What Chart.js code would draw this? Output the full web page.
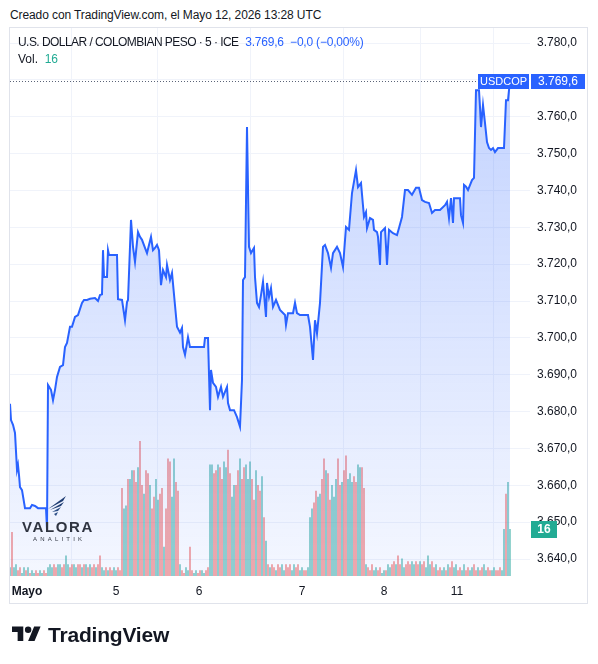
<!DOCTYPE html>
<html><head><meta charset="utf-8">
<script src="https://cdn.jsdelivr.net/npm/chart.js@4"></script>
<style>
body{margin:0;width:598px;height:664px;background:#fff;position:relative;overflow:hidden;font-family:"Liberation Sans",Arial,sans-serif;color:#131722}
#title{position:absolute;left:10px;top:8px;font-size:12px;white-space:nowrap;letter-spacing:-0.1px}
#frame{position:absolute;left:9px;top:27px;width:579px;height:577px;border:1px solid #e0e3eb;box-sizing:border-box}
#wrap{position:absolute;left:10px;top:28px;width:577px;height:575px}
#legend{position:absolute;left:18px;top:34px;font-size:12px;line-height:17px;white-space:nowrap}
#legend .n{letter-spacing:-0.55px}
#legend .b{color:#2962ff;letter-spacing:-0.2px}
#legend .g{color:#22ab94}
#valora{position:absolute;left:20px;top:494px;width:76px;height:50px}
#valora .t{position:absolute;left:2px;top:24px;font-size:15px;letter-spacing:1.6px;color:#2f3440;font-weight:bold}
#valora .s{position:absolute;left:13px;top:42px;font-size:6px;letter-spacing:3.2px;color:#2f3440}
#tv{position:absolute;left:12px;top:622px;height:26px;white-space:nowrap}
#tv span{position:absolute;left:36px;top:1px;font-size:21px;font-weight:bold;color:#131722;letter-spacing:-0.2px}
</style></head>
<body>
<div id="title">Creado con TradingView.com, el Mayo 12, 2026 13:28 UTC</div>
<div id="frame"></div>
<div id="wrap"><canvas id="c" width="577" height="575"></canvas></div>
<div id="legend"><span class="n">U.S. DOLLAR / COLOMBIAN PESO · 5 · ICE</span>&nbsp;&nbsp;<span class="b">3.769,6&nbsp;&nbsp;−0,0 (−0,00%)</span><br>Vol.&nbsp;&nbsp;<span class="g">16</span></div>
<div id="valora">
<svg style="position:absolute;left:26px;top:0" width="22" height="24" viewBox="0 0 22 24">
<polygon points="2,15 20,2 17,7" fill="#1f3d73"/>
<polygon points="4,16 18,8 15,12" fill="#1f3d73"/>
<polygon points="6,18 15,13 12,17" fill="#2a4d86"/>
<polygon points="8,20 12,18 10,22" fill="#2a4d86"/>
</svg>
<div class="t">VALORA</div>
<div class="s">ANALITIK</div>
</div>
<div id="tv">
<svg width="29" height="23" viewBox="0 0 36 28" style="position:absolute;left:0;top:1px"><path d="M14 22H7V11H0V4h14v18zM28 22h-8l7.5-18h8L28 22z" fill="#131722"/><circle cx="20" cy="8" r="4" fill="#131722"/></svg>
<span>TradingView</span>
</div>
<script>
// time index (5-minute session steps) and USD/COP price
const priceTime = [0,1,3,5,7,8,9,10,12,15,20,22,25,28,36,37,38,41,43,45,47,50,53,55,57,60,62,65,68,72,74,77,80,85,88,90,92,93,94,97,98,99,107,108,112,115,117,118,121,123,125,128,130,132,135,137,139,141,143,145,147,149,151,153,156,157,160,162,167,170,172,173,175,178,180,194,195,198,200,201,203,206,208,211,213,217,218,220,224,227,230,232,233,235,237,239,241,244,245,247,249,251,253,256,257,259,261,263,266,270,275,276,278,283,285,287,290,298,300,303,305,307,310,313,315,318,321,323,327,330,333,336,339,342,346,348,351,354,356,357,360,363,364,367,368,370,371,375,377,379,383,387,389,392,395,398,402,406,409,412,415,419,422,425,430,435,437,439,441,443,444,450,451,453,454,456,458,462,464,466,469,470,471,473,475,477,479,481,483,485,488,494,496,498,499,500];
const priceValue = [3682.1,3677.7,3676.4,3674.2,3664.2,3665.5,3662.8,3659.5,3658.7,3653.8,3653.8,3654.7,3654.4,3653.8,3653.8,3648.0,3687.2,3685.9,3683.1,3685.9,3689.4,3692.1,3692.6,3697.5,3698.6,3703.0,3703.0,3705.7,3706.2,3709.5,3710.3,3710.3,3710.6,3710.8,3710.0,3711.6,3711.8,3723.8,3716.5,3716.5,3723.8,3722.5,3722.5,3710.5,3710.3,3704.8,3709.7,3710.3,3732.0,3724.7,3720.6,3728.7,3727.4,3726.6,3724.4,3723.0,3725.2,3727.4,3723.8,3724.4,3725.2,3723.8,3714.3,3718.4,3716.5,3719.8,3715.7,3717.6,3703.0,3701.4,3702.7,3697.5,3695.4,3700.2,3697.5,3697.5,3700.0,3700.0,3680.4,3691.3,3687.8,3686.7,3684.0,3686.7,3684.0,3686.7,3682.3,3680.4,3680.4,3678.5,3675.9,3688.6,3715.7,3716.5,3757.2,3724.7,3723.0,3724.4,3716.5,3709.5,3708.4,3711.6,3715.2,3705.7,3714.9,3711.1,3713.5,3708.4,3710.3,3707.6,3706.2,3703.5,3706.7,3706.7,3709.5,3706.7,3706.2,3706.2,3703.0,3694.0,3704.8,3701.2,3709.5,3724.7,3725.2,3723.0,3719.0,3723.0,3724.7,3723.0,3719.2,3730.1,3729.3,3739.3,3745.5,3740.9,3742.0,3732.8,3734.1,3729.8,3732.5,3732.0,3729.3,3728.7,3727.4,3719.8,3728.7,3729.8,3719.8,3729.3,3728.4,3727.9,3729.8,3732.8,3740.1,3740.1,3738.8,3740.7,3740.7,3737.4,3736.9,3736.6,3733.9,3734.7,3734.7,3736.0,3736.9,3732.5,3737.9,3731.2,3737.9,3737.9,3733.3,3731.2,3741.5,3741.0,3740.1,3742.8,3743.4,3767.2,3767.2,3762.6,3757.2,3763.2,3758.3,3753.1,3751.5,3751.0,3751.5,3750.4,3751.5,3751.5,3764.5,3764.5,3767.2,3769.6];
// volume per bar (one bar every 2 time steps, starting at 0)
const volume = [
3,15,3,4,2,3,1,3,2,3, 1,2,1,2,1,2,1,2,1,3, 4,3,4,3,4,4,3,4,7,4, 3,4,4,3,4,4,3,4,4,3,
4,3,4,3,4,7,3,2,3,2, 3,2,3,2,3,2,30,23,24,33, 33,36,36,32,37,46,31,28,36,35, 31,23,27,33,26,28,30,10,23,40,
39,27,40,32,29,4,2,1,3,2, 10,2,1,2,1,2,2,1,2,3, 38,38,35,36,38,37,33,39,37,43, 35,27,31,31,36,40,33,37,38,33,
39,33,26,36,31,29,34,20,12,4, 3,4,3,2,4,3,4,2,4,3, 4,2,4,3,4,2,3,2,2,3, 20,23,25,29,27,28,33,40,36,35,
26,31,27,33,40,31,32,36,41,33, 35,32,34,32,38,37,37,30,4,3, 2,4,2,3,2,3,1,2,2,4, 3,4,5,4,7,4,6,3,4,5,
4,5,4,5,4,5,4,5,3,7, 4,5,3,4,2,3,2,3,2,4, 3,5,3,4,2,3,2,4,2,3, 2,3,4,2,3,2,3,4,2,3, 2,2,3,2,2,3,2,16,28,32,
16];
const volumeDir = "uduudduudu"+"duudduuddu"+"uudduudduu"+"dduuddudud"+"uddudduudu"+"dduuddduud"+"uudduddudd"+"udduuddudd"+"duuddudduu"+"dduudduudd"+"uuddudduud"+"duuddudduu"+"udduddudud"+"uddudduudd"+"duudduuddu"+"uudduuddud"+"duuudduddu"+"uudduuddud"+"dduudduudu"+"uddudduudd"+"duuddudduu"+"uddudduudu"+"dduudduudd"+"uuddudduud"+"duuddduudu"+"u";
const dayTickTimes = [17,106,189,292,374,447];
const dayTickLabels = ["Mayo","5","6","7","8","11"];
const priceTicks = [3640,3650,3660,3670,3680,3690,3700,3710,3720,3730,3740,3750,3760,3770,3780];
const lastPrice = 3769.6;
const lastVolume = 16;
const symbol = "USDCOP";

function fmt(v){const p=v.toFixed(1).split('.');return p[0].replace(/\B(?=(\d{3})+$)/g,'.')+','+p[1];}

const BLUE='#2962ff';
const badges={id:'badges',afterDatasetsDraw(chart){
  const c=chart.ctx, a=chart.chartArea, y=Math.round(chart.scales.y.getPixelForValue(lastPrice));
  c.save();
  c.strokeStyle='#5b6478';c.lineWidth=1;c.setLineDash([1,2]);
  c.beginPath();c.moveTo(a.left,y+0.5);c.lineTo(a.right-53,y+0.5);c.stroke();
  c.setLineDash([]);
  c.textBaseline='middle';c.textAlign='center';
  c.fillStyle=BLUE;c.fillRect(a.right-52,y-7,51,15);
  c.fillRect(a.right+1,y-7,54,15);
  c.fillStyle='#fff';
  c.font='11px "Liberation Sans", Arial, sans-serif';c.fillText(symbol,a.right-26.5,y+1);
  c.font='12px "Liberation Sans", Arial, sans-serif';c.fillText(fmt(lastPrice),a.right+28,y+1);
  const vy=Math.round(chart.scales.yv.getPixelForValue(lastVolume));
  c.fillStyle='#22ab94';c.fillRect(a.right+1,vy-8,26,17);
  c.fillStyle='#fff';c.font='bold 12px "Liberation Sans", Arial, sans-serif';c.fillText(String(lastVolume),a.right+14,vy+1);
  c.restore();
}};

new Chart(document.getElementById('c'),{
  type:'bar',
  data:{datasets:[
    {type:'line',data:priceTime.map((t,i)=>({x:t,y:priceValue[i]})),yAxisID:'y',order:0,
     borderColor:BLUE,borderWidth:2,pointRadius:0,tension:0,fill:'start',
     backgroundColor:(ctx)=>{const ch=ctx.chart,a=ch.chartArea;if(!a)return 'rgba(41,98,255,0.15)';
       const g=ch.ctx.createLinearGradient(0,a.top,0,a.bottom);g.addColorStop(0,'rgba(41,98,255,0.30)');g.addColorStop(1,'rgba(41,98,255,0.05)');return g;}},
    {type:'bar',data:volume.map((v,i)=>({x:2*i,y:v})),yAxisID:'yv',order:1,
     backgroundColor:volume.map((v,i)=>volumeDir[i]==='u'?'rgba(38,166,154,0.55)':'rgba(239,83,80,0.55)'),
     barPercentage:0.9,categoryPercentage:1,grouped:false}
  ]},
  options:{responsive:false,animation:false,events:[],
    layout:{padding:0,autoPadding:false},
    plugins:{legend:{display:false},tooltip:{enabled:false}},
    scales:{
      x:{type:'linear',min:0,max:520,offset:false,
        afterBuildTicks:s=>{s.ticks=dayTickTimes.map(v=>({value:v}));},
        afterFit:s=>{s.height=27;s.paddingLeft=0;s.paddingRight=0;},
        grid:{color:'#f0f3fa',drawTicks:false},border:{display:false},
        ticks:{autoSkip:false,maxRotation:0,padding:8,color:'#131722',
          font:(ctx)=>({size:12,family:'"Liberation Sans", Arial, sans-serif',weight:ctx.index===0?'bold':'normal'}),
          callback:(v,i)=>dayTickLabels[i]}},
      y:{position:'right',min:3635.4,max:3784.07,
        afterBuildTicks:s=>{s.ticks=priceTicks.map(v=>({value:v}));},
        afterFit:s=>{s.width=57;s.paddingTop=0;s.paddingBottom=0;},
        grid:{color:'#f0f3fa',drawTicks:false},border:{display:false},
        ticks:{padding:7,color:'#131722',font:{size:12,family:'"Liberation Sans", Arial, sans-serif'},callback:v=>fmt(v)}},
      yv:{position:'left',display:false,min:0,max:186.6}
    }
  },
  plugins:[badges]
});
</script>
</body></html>
